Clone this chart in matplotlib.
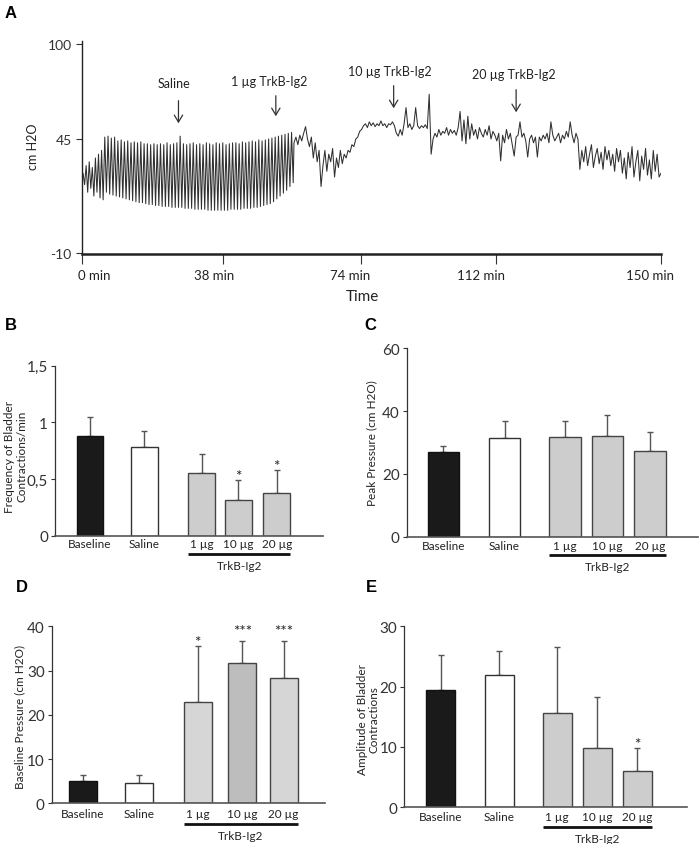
import numpy as np
import matplotlib
matplotlib.use("Agg")
import matplotlib.pyplot as plt
from matplotlib.transforms import blended_transform_factory

plt.rcParams['font.family'] = ['Lato', 'DejaVu Sans']

# ---------------- Panel A data (cystometry trace) ----------------
time_tick_pos = [0, 36.7, 72.3, 107.3, 150]
time_tick_labels = ['0 min', '38 min', '74 min', '112 min', '150 min']
time_label_pos = [3.3, 34.2, 69.5, 103.5, 147.1]
pressure_tick_pos = [-10, 50, 100]
pressure_tick_labels = ['-10', '45', '100']

early_start = 29
early_peaks = [32, 36, 38, 35, 40, 42, 44]
early_troughs = [26, 22, 24, 20, 22, 19, 18]
early_span = (0.0, 5.6)

osc_peaks = [51, 51.5, 50.5, 51,
             49, 49.5, 48.5, 49, 48, 48.5, 48, 48.5, 47.5,
             47.5, 47, 47.5, 47, 47.5, 47, 48, 47, 47.5, 48,
             51.5,
             47.5, 47, 47.5, 48, 47, 47.5, 47, 48, 47.5, 47, 48, 47.5, 48, 47, 47.5, 48,
             48, 47.5, 48.5, 48, 48.5, 49, 48.5, 49.5, 49, 49.5, 50,
             50.5, 51, 51.5, 52, 52.5, 53, 53.5]
osc_troughs = [22, 21, 20.5, 20,
               19.5, 19, 18.5, 18, 17.5, 17, 16.5, 16.5, 16,
               15.5, 15.5, 15, 15, 14.5, 14.5, 14.5, 14, 14, 14,
               14,
               13.5, 13.5, 13.5, 13, 13, 13, 13, 12.5, 12.5, 12.5, 12.5, 12.5, 12.5, 12.5, 13, 13,
               13, 13, 13.5, 13.5, 13.5, 14, 14, 14.5, 15, 15.5, 16,
               17, 18.5, 20, 21.5, 23, 25, 27]
osc_span = (5.6, 54.8)

noisy_start, noisy_step = 55.0, 0.5
noisy_values = [48, 51, 47, 52, 49, 53, 56.5, 50,
                46, 51, 40, 48, 38, 44, 25,
                36, 44, 33, 42, 38, 45, 30, 40, 35, 44, 37, 42,
                40, 44, 43, 47, 46, 50, 51, 54, 55, 57,
                58, 56, 59, 57, 58.5, 56.5, 58, 57, 59.5, 57, 58, 56, 58, 57.5, 59, 57,
                53, 51.5, 55, 52, 58,
                66.5,
                56, 58, 55, 57,
                66.5,
                57, 55.5, 57, 56, 57.5, 55.5,
                73.5,
                42,
                50, 53, 51, 55, 52, 54, 53, 56, 52, 55, 53, 54.5, 52, 56,
                64.5, 49, 60, 47.5, 62, 50, 58,
                52, 55, 50, 56, 53, 51, 55, 52, 57, 50, 54, 52, 49, 53,
                38.5,
                52, 48, 55, 50, 53, 47, 41, 51,
                52, 59, 51, 53, 49,
                40.5,
                50, 52, 48, 51,
                40.5,
                51, 49, 52, 50, 53, 48,
                59,
                52, 49, 51, 53, 48, 52, 50, 54, 51,
                59,
                52, 48, 53, 50,
                34,
                44, 38, 46, 36, 42, 47, 35, 41, 45, 37, 43, 34, 46, 39, 44, 36, 42, 33, 45, 38,
                44, 32, 40, 29, 43, 35, 46, 30, 38, 44, 28, 41, 34, 45, 31, 39, 29, 44, 33, 42, 30, 32]

injection_labels = ['Saline', '1 µg TrkB-Ig2', '10 µg TrkB-Ig2', '20 µg TrkB-Ig2']
injection_times = [25.1, 50.3, 80.8, 112.5]

# ---------------- Bar panel data ----------------
groups = ['Baseline', 'Saline', '1 µg', '10 µg', '20 µg']
group_caption = 'TrkB-Ig2'

freq_means = [0.876, 0.779, 0.55, 0.318, 0.374]
freq_sem = [0.168, 0.142, 0.17, 0.173, 0.205]
freq_sig = ['', '', '', '*', '*']

peak_means = [26.9, 31.3, 31.6, 32.1, 27.2]
peak_sem = [2.1, 5.4, 5.1, 6.7, 6.2]
peak_sig = ['', '', '', '', '']

base_means = [5.1, 4.7, 23.0, 31.6, 28.3]
base_sem = [1.3, 1.7, 12.6, 5.1, 8.4]
base_sig = ['', '', '*', '***', '***']

amp_means = [19.5, 21.9, 15.6, 9.9, 6.0]
amp_sem = [5.75, 4.0, 10.9, 8.3, 3.85]
amp_sig = ['', '', '', '', '*']

# ---------------- Figure ----------------
W, H = 700, 845
fig = plt.figure(figsize=(W / 100, H / 100), dpi=100)


def px_axes(l, t, r, b):
    return fig.add_axes([l / W, 1 - b / H, (r - l) / W, (b - t) / H])


# ---- Panel A ----
axA = px_axes(81.5, 41.7, 661, 255)
t_pts = [early_span[0]]
y_pts = [early_start]
P1 = (early_span[1] - early_span[0]) / len(early_peaks)
for k, (pk, tr) in enumerate(zip(early_peaks, early_troughs)):
    t_pts += [early_span[0] + (k + 0.5) * P1, early_span[0] + (k + 1) * P1]
    y_pts += [pk, tr]
P2 = (osc_span[1] - osc_span[0]) / len(osc_peaks)
for k, (pk, tr) in enumerate(zip(osc_peaks, osc_troughs)):
    t_pts += [osc_span[0] + (k + 0.5) * P2, osc_span[0] + (k + 1) * P2]
    y_pts += [pk, tr]
noisy_t = noisy_start + noisy_step * np.arange(len(noisy_values))
t_pts += list(noisy_t)
y_pts += list(noisy_values)
axA.plot(t_pts, y_pts, color='#303030', lw=0.75)

axA.set_xlim(0, 150)
axA.set_ylim(-10.5, 101.7)
for s in ['top', 'right']:
    axA.spines[s].set_visible(False)
axA.spines['left'].set_linewidth(1.0)
axA.spines['left'].set_color('#222')
axA.spines['bottom'].set_linewidth(1.8)
axA.spines['bottom'].set_color('#222')
axA.set_yticks(pressure_tick_pos)
axA.set_yticklabels(pressure_tick_labels, fontsize=10, color='#333')
axA.tick_params(axis='y', length=4, width=0.8, pad=3, color='#333')
axA.set_xticks(time_tick_pos)
axA.set_xticklabels([])
axA.tick_params(axis='x', length=7, width=0.8, color='#333')
trA = blended_transform_factory(axA.transData, axA.transAxes)
for xp, lab in zip(time_label_pos, time_tick_labels):
    axA.text(xp, -21 / 213.3, lab, transform=trA, ha='center', va='center',
             fontsize=9.5, color='#222')
axA.text(0.484, -41.7 / 213.3, 'Time', transform=axA.transAxes, ha='center',
         va='center', fontsize=11, color='#222')
axA.set_ylabel('cm H2O', fontsize=9, color='#222')
axA.yaxis.set_label_coords(-0.073, 0.508)

arrow_tops = [71.6, 74.2, 79.5, 77.4]
arrow_tips = [56.8, 60.5, 64.7, 62.6]
label_x = [23.9, 48.5, 79.8, 111.9]
label_y = [79.5, 80.5, 85.8, 84.0]
for tt, top, tip, lx, ly, lab in zip(injection_times, arrow_tops, arrow_tips,
                                     label_x, label_y, injection_labels):
    axA.annotate('', xy=(tt, tip), xytext=(tt, top),
                 arrowprops=dict(arrowstyle='->,head_length=0.5,head_width=0.3',
                                 color='#333', lw=0.9))
    axA.text(lx, ly, lab, ha='center', va='center', fontsize=9, color='#222')

fig.text(11 / W, 1 - 13 / H, 'A', fontsize=12, fontweight='bold',
         family='Liberation Sans', ha='center', va='center')


# ---- Bar panels ----
def bar_panel(box, means, sem, sig, colors, xpos, width, xlim, ylim, yticks,
              yticklabels, ylabel, lab_xy, lab_off, cap_off, star_off, br_off,
              edges):
    l, t, r, b = box
    ax = px_axes(l, t, r, b)
    hpx = b - t
    ax.bar(xpos, means, width, color=colors, edgecolor=edges, linewidth=1.0,
           zorder=2)
    ax.errorbar(xpos, means, yerr=[np.zeros(len(means)), sem], fmt='none',
                ecolor='#555', elinewidth=1.0, capsize=2.5, capthick=1.0,
                zorder=1)
    for x, m, e, s in zip(xpos, means, sem, sig):
        if s:
            off = star_off + (6 if len(s) > 1 else 0)
            ax.annotate(s, xy=(x, m + e), xytext=(0, off),
                        textcoords='offset pixels', ha='center', va='center',
                        fontsize=11, color='#222')
    ax.set_xlim(*xlim)
    ax.set_ylim(*ylim)
    for s in ['top', 'right']:
        ax.spines[s].set_visible(False)
    ax.spines['left'].set_linewidth(0.9)
    ax.spines['left'].set_color('#333')
    ax.spines['bottom'].set_linewidth(1.2)
    ax.spines['bottom'].set_color('#555')
    ax.set_yticks(yticks)
    ax.set_yticklabels(yticklabels, fontsize=11, color='#333')
    ax.tick_params(axis='y', length=3, width=0.8, pad=2, color='#333')
    ax.set_xticks(xpos)
    ax.set_xticklabels(groups, fontsize=8.5, color='#222')
    ax.tick_params(axis='x', length=0, pad=cap_off)
    tr = blended_transform_factory(ax.transData, ax.transAxes)
    x0 = xpos[2] - width / 2
    x1 = xpos[4] + width / 2
    ax.plot([x0, x1], [-br_off / hpx] * 2, transform=tr, color='#111', lw=2.0,
            clip_on=False, solid_capstyle='butt')
    ax.text((x0 + x1) / 2, -(br_off + 11.5) / hpx, group_caption, transform=tr,
            ha='center', va='center', fontsize=8.5, color='#222')
    ax.set_ylabel(ylabel, fontsize=8.5, color='#222', linespacing=1.1)
    ax.yaxis.set_label_coords(*lab_off)
    fig.text(lab_xy[0] / W, 1 - lab_xy[1] / H, lab_xy[2], fontsize=12,
             fontweight='bold', family='Liberation Sans', ha='center',
             va='center')
    return ax


grey = '#cdcdcd'
std_colors = ['#1a1a1a', 'white', grey, grey, grey]
std_edges = ['#111', '#333', '#444', '#444', '#444']

bar_panel((55, 366.7, 323, 536.7), freq_means, freq_sem, freq_sig, std_colors,
          [0, 1.45, 2.97, 3.95, 4.97], 0.71, (-0.93, 6.2), (0, 1.5),
          [0, 0.5, 1, 1.5], ['0', '0,5', '1', '1,5'],
          'Frequency of Bladder\nContractions/min', (11, 326, 'B'),
          (-0.104, 0.47), 2, 4, 18.3, std_edges)

bar_panel((406.7, 349.3, 698, 537.7), peak_means, peak_sem, peak_sig,
          std_colors, [0, 1.44, 2.86, 3.86, 4.86], 0.736, (-0.86, 5.99),
          (0, 60), [0, 20, 40, 60], ['0', '20', '40', '60'],
          'Peak Pressure (cm H2O)', (370, 326, 'C'), (-0.102, 0.5), 2.5, 4,
          18.3, std_edges)

d_colors = ['#1a1a1a', 'white', '#d6d6d6', '#bdbdbd', '#d6d6d6']
bar_panel((51.7, 627.3, 325, 804.3), base_means, base_sem, base_sig, d_colors,
          [0, 1.31, 2.67, 3.71, 4.67], 0.65, (-0.72, 5.63), (0, 40),
          [0, 10, 20, 30, 40], ['0', '10', '20', '30', '40'],
          'Baseline Pressure (cm H2O)', (22, 587.5, 'D'), (-0.098, 0.495), 3.5,
          4, 20.7, std_edges)

bar_panel((404, 627.3, 687.3, 808.3), amp_means, amp_sem, amp_sig, std_colors,
          [0, 1.46, 2.9, 3.9, 4.9], 0.72, (-0.91, 6.14), (0, 30),
          [0, 10, 20, 30], ['0', '10', '20', '30'],
          'Amplitude of Bladder\nContractions', (371, 588, 'E'),
          (-0.085, 0.488), 3, 4, 19.7, std_edges)

fig.savefig('out.png', dpi=100)
